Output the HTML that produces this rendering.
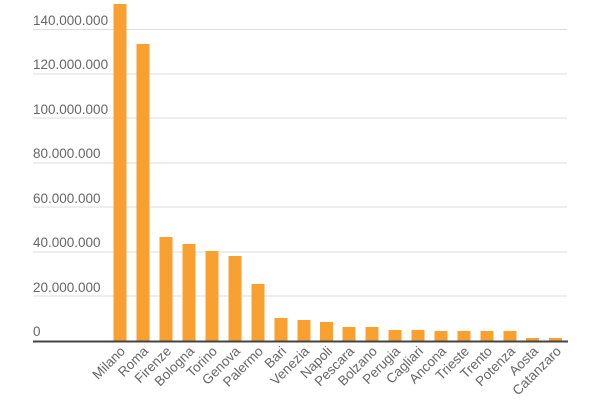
<!DOCTYPE html>
<html><head><meta charset="utf-8"><style>
html,body{margin:0;padding:0;background:#fff;}
svg{display:block;font-family:"Liberation Sans",sans-serif;}
</style></head><body>
<svg width="600" height="400" viewBox="0 0 600 400">
<g stroke="#dedede" stroke-width="1">
<line x1="33" x2="567" y1="29.5" y2="29.5"/>
<line x1="33" x2="567" y1="74" y2="74"/>
<line x1="33" x2="567" y1="118" y2="118"/>
<line x1="33" x2="567" y1="163" y2="163"/>
<line x1="33" x2="567" y1="207" y2="207"/>
<line x1="33" x2="567" y1="252" y2="252"/>
<line x1="33" x2="567" y1="296" y2="296"/>
</g>
<g fill="#666" font-size="13.5">
<text x="33" y="25">140.000.000</text>
<text x="33" y="69">120.000.000</text>
<text x="33" y="114">100.000.000</text>
<text x="33" y="158">80.000.000</text>
<text x="33" y="203">60.000.000</text>
<text x="33" y="247">40.000.000</text>
<text x="33" y="292">20.000.000</text>
<text x="33" y="336">0</text>
</g>
<g fill="#f9a130">
<rect x="113.5" y="4" width="13" height="337"/>
<rect x="136.5" y="44" width="13" height="297"/>
<rect x="159.5" y="237" width="13" height="104"/>
<rect x="182.5" y="244" width="13" height="97"/>
<rect x="205.5" y="251" width="13" height="90"/>
<rect x="228.5" y="256" width="13" height="85"/>
<rect x="251.5" y="284" width="13" height="57"/>
<rect x="274.5" y="318" width="13" height="23"/>
<rect x="297.5" y="320" width="13" height="21"/>
<rect x="320" y="322" width="13" height="19"/>
<rect x="342.5" y="327" width="13" height="14"/>
<rect x="365.5" y="327" width="13" height="14"/>
<rect x="388.5" y="330" width="13" height="11"/>
<rect x="411.5" y="330" width="13" height="11"/>
<rect x="434.5" y="331" width="13" height="10"/>
<rect x="457.5" y="331" width="13" height="10"/>
<rect x="480.5" y="331" width="13" height="10"/>
<rect x="503.5" y="331" width="13" height="10"/>
<rect x="526" y="338" width="13" height="3"/>
<rect x="549" y="338" width="13" height="3"/>
</g>
<line x1="33" x2="568" y1="341.5" y2="341.5" stroke="#444" stroke-width="2"/>
<g fill="#666" font-size="13.5" text-anchor="end">
<text transform="translate(126,352) rotate(-45)">Milano</text>
<text transform="translate(149,352) rotate(-45)">Roma</text>
<text transform="translate(172,352) rotate(-45)">Firenze</text>
<text transform="translate(195,352) rotate(-45)">Bologna</text>
<text transform="translate(218,352) rotate(-45)">Torino</text>
<text transform="translate(241,352) rotate(-45)">Genova</text>
<text transform="translate(264,352) rotate(-45)">Palermo</text>
<text transform="translate(287,352) rotate(-45)">Bari</text>
<text transform="translate(310,352) rotate(-45)">Venezia</text>
<text transform="translate(333,352) rotate(-45)">Napoli</text>
<text transform="translate(355,352) rotate(-45)">Pescara</text>
<text transform="translate(378,352) rotate(-45)">Bolzano</text>
<text transform="translate(401,352) rotate(-45)">Perugia</text>
<text transform="translate(424,352) rotate(-45)">Cagliari</text>
<text transform="translate(447,352) rotate(-45)">Ancona</text>
<text transform="translate(470,352) rotate(-45)">Trieste</text>
<text transform="translate(493,352) rotate(-45)">Trento</text>
<text transform="translate(516,352) rotate(-45)">Potenza</text>
<text transform="translate(539,352) rotate(-45)">Aosta</text>
<text transform="translate(562,352) rotate(-45)">Catanzaro</text>
</g>
</svg>
</body></html>
